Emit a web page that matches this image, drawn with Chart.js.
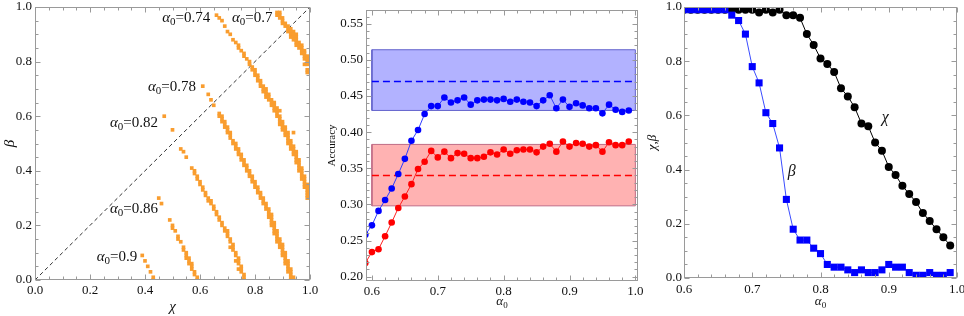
<!DOCTYPE html>
<html><head><meta charset="utf-8">
<script src="https://cdn.jsdelivr.net/npm/chart.js@4.4.1/dist/chart.umd.min.js"></script>
<style>
html,body{margin:0;padding:0;background:#fff;}
#wrap{position:relative;width:964px;height:316px;overflow:hidden;background:#fff;}
.pane{position:absolute;top:0;height:316px;}
canvas{display:block;}
</style></head><body>
<div id="wrap">
<div class="pane" style="left:0;width:320px"><canvas id="c1" width="320" height="316"></canvas></div>
<div class="pane" style="left:320px;width:325px"><canvas id="c2" width="325" height="316"></canvas></div>
<div class="pane" style="left:645px;width:319px"><canvas id="c3" width="319" height="316"></canvas></div>
</div>
<script>
// ---------- Panel 1 data: (chi, beta) cells for each alpha0 ----------
const band070 = [[0.88,0.98],[0.89,0.98],[0.88,0.97],[0.89,0.97],[0.89,0.96],[0.90,0.96],[0.90,0.95],[0.90,0.94],[0.91,0.94],[0.91,0.93],[0.92,0.93],[0.92,0.92],[0.93,0.92],[0.92,0.91],[0.93,0.91],[0.94,0.91],[0.93,0.90],[0.94,0.90],[0.95,0.90],[0.93,0.89],[0.94,0.89],[0.95,0.89],[0.94,0.88],[0.95,0.88],[0.95,0.87],[0.96,0.87],[0.95,0.86],[0.96,0.86],[0.97,0.86],[0.96,0.85],[0.97,0.85],[0.97,0.84],[0.98,0.84],[0.97,0.83],[0.98,0.83],[0.98,0.82],[0.99,0.82],[0.98,0.81],[0.99,0.81],[0.99,0.80],[0.98,0.79],[0.99,0.79],[0.99,0.77],[0.99,0.76]];
const band074 = [[0.66,0.97],[0.67,0.96],[0.68,0.95],[0.69,0.93],[0.70,0.91],[0.71,0.90],[0.72,0.88],[0.73,0.87],[0.74,0.86],[0.74,0.85],[0.75,0.84],[0.76,0.83],[0.76,0.82],[0.77,0.81],[0.78,0.80],[0.78,0.79],[0.79,0.78],
[0.79,0.77],[0.80,0.77],[0.80,0.76],[0.80,0.75],[0.81,0.75],[0.81,0.74],[0.81,0.73],[0.82,0.73],[0.82,0.72],[0.82,0.71],[0.83,0.71],[0.83,0.70],[0.84,0.70],[0.83,0.69],[0.84,0.69],[0.84,0.68],[0.85,0.68],[0.84,0.67],[0.85,0.67],[0.85,0.66],[0.86,0.66],[0.86,0.65],[0.87,0.65],[0.86,0.64],[0.87,0.64],[0.87,0.63],[0.88,0.63],[0.87,0.62],[0.88,0.62],[0.89,0.62],[0.88,0.61],[0.88,0.60],[0.89,0.60],[0.89,0.59],[0.89,0.58],[0.90,0.58],[0.89,0.57],[0.90,0.57],[0.90,0.56],[0.91,0.56],[0.90,0.55],[0.91,0.55],[0.91,0.54],[0.92,0.54],[0.94,0.54],[0.91,0.53],[0.92,0.53],[0.92,0.52],[0.92,0.51],[0.93,0.51],[0.92,0.50],[0.93,0.50],[0.93,0.49],[0.94,0.49],[0.93,0.48],[0.94,0.48],[0.94,0.47],[0.95,0.47],[0.94,0.46],[0.95,0.46],[0.95,0.45],[0.95,0.44],[0.96,0.44],[0.95,0.43],[0.96,0.43],[0.96,0.42],[0.96,0.41],[0.97,0.41],[0.96,0.40],[0.97,0.40],[0.97,0.39],[0.97,0.38],[0.98,0.38],[0.97,0.37],[0.98,0.37],[0.98,0.36],[0.98,0.35],[0.99,0.35],[0.98,0.34],[0.99,0.34],[0.99,0.33],[0.99,0.32],[0.99,0.31],[0.99,0.30]];
const band078 = [[0.61,0.71],[0.63,0.68],[0.64,0.66],[0.65,0.64],
[0.67,0.61],[0.67,0.60],[0.68,0.60],[0.68,0.59],[0.68,0.58],[0.69,0.58],[0.69,0.57],[0.69,0.56],[0.70,0.56],[0.70,0.55],[0.70,0.54],[0.71,0.54],[0.71,0.53],[0.71,0.52],[0.72,0.51],[0.72,0.50],[0.73,0.50],[0.73,0.49],[0.73,0.48],[0.74,0.48],[0.74,0.47],[0.74,0.46],[0.75,0.46],[0.75,0.45],[0.75,0.44],[0.76,0.44],[0.76,0.43],[0.76,0.42],[0.77,0.42],[0.77,0.41],[0.77,0.40],[0.78,0.40],[0.78,0.39],[0.78,0.38],[0.79,0.38],[0.79,0.37],[0.79,0.36],[0.80,0.36],[0.80,0.35],[0.80,0.34],[0.81,0.34],[0.81,0.33],[0.81,0.32],[0.82,0.32],[0.82,0.31],[0.82,0.30],[0.83,0.30],[0.83,0.29],[0.83,0.28],[0.84,0.28],[0.84,0.27],[0.84,0.26],[0.85,0.26],[0.85,0.25],[0.85,0.24],[0.86,0.24],[0.85,0.23],[0.86,0.23],[0.86,0.22],[0.86,0.21],[0.87,0.21],[0.86,0.20],[0.87,0.20],[0.87,0.19],[0.87,0.18],[0.88,0.18],[0.87,0.17],[0.88,0.17],[0.88,0.16],[0.88,0.15],[0.89,0.15],[0.88,0.14],[0.89,0.14],[0.89,0.13],[0.90,0.13],[0.89,0.12],[0.90,0.12],[0.90,0.11],[0.90,0.10],[0.91,0.10],[0.90,0.09],[0.91,0.09],[0.91,0.08],[0.91,0.07],[0.92,0.07],[0.91,0.06],[0.92,0.06],[0.92,0.05],[0.92,0.04],[0.93,0.04],[0.92,0.03],[0.93,0.03],[0.93,0.02],[0.93,0.01],[0.94,0.01],[0.93,0.00],[0.94,0.00]];
const band082 = [[0.47,0.60],[0.50,0.55],[0.53,0.48],[0.54,0.47],[0.55,0.45],[0.57,0.41],[0.58,0.40],[0.58,0.39],[0.59,0.38],[0.59,0.37],[0.60,0.36],[0.60,0.35],[0.61,0.34],[0.61,0.33],[0.62,0.32],[0.62,0.31],[0.63,0.30],[0.63,0.29],[0.64,0.29],[0.64,0.28],[0.65,0.27],[0.65,0.26],[0.66,0.25],[0.66,0.24],[0.67,0.23],[0.67,0.22],[0.68,0.21],[0.68,0.20],[0.69,0.19],[0.69,0.18],[0.70,0.18],[0.70,0.17],[0.70,0.16],[0.71,0.15],[0.71,0.14],[0.72,0.13],[0.71,0.12],[0.72,0.12],[0.72,0.11],[0.73,0.10],[0.73,0.09],[0.74,0.08],[0.73,0.07],[0.74,0.07],[0.74,0.06],[0.75,0.05],[0.74,0.04],[0.75,0.04],[0.75,0.03],[0.76,0.02],[0.76,0.01],[0.76,0.00]];
const band086 = [[0.45,0.30],[0.46,0.28],[0.49,0.22],[0.50,0.20],[0.50,0.19],[0.51,0.18],[0.52,0.16],[0.52,0.15],[0.53,0.14],[0.54,0.12],[0.54,0.11],[0.55,0.10],[0.55,0.09],[0.55,0.08],[0.56,0.08],[0.56,0.07],[0.56,0.06],[0.57,0.06],[0.57,0.05],[0.57,0.04],[0.58,0.03],[0.58,0.02],[0.59,0.01],[0.59,0.00]];
const band090 = [[0.39,0.09],[0.40,0.07],[0.41,0.05],[0.42,0.03],[0.43,0.01],[0.43,0.00]];
const diagonal = [[0,0],[1,1]];
const bandNames = ['0.7','0.74','0.78','0.82','0.86','0.9'];
const bandLabelAt = [[0.79,0.96],[0.55,0.96],[0.498,0.708],[0.36,0.574],[0.36,0.261],[0.298,0.083]];
const p1Ticks = [0,0.2,0.4,0.6,0.8,1.0];
const p1TickLabels = ['0.0','0.2','0.4','0.6','0.8','1.0'];
const p1Minor = [0.05,0.10,0.15,0.25,0.30,0.35,0.45,0.50,0.55,0.65,0.70,0.75,0.85,0.90,0.95];

// ---------- Panel 2 data ----------
const p2Alpha = [0.59,0.60,0.61,0.62,0.63,0.64,0.65,0.66,0.67,0.68,0.69,0.70,0.71,0.72,0.73,0.74,0.75,0.76,0.77,0.78,0.79,0.80,0.81,0.82,0.83,0.84,0.85,0.86,0.87,0.88,0.89,0.90,0.91,0.92,0.93,0.94,0.95,0.96,0.97,0.98,0.99];
const accBlue = [0.258,0.271,0.291,0.306,0.322,0.342,0.363,0.388,0.403,0.425,0.436,0.436,0.448,0.441,0.444,0.448,0.438,0.444,0.445,0.445,0.444,0.446,0.442,0.445,0.442,0.441,0.436,0.444,0.451,0.433,0.445,0.435,0.440,0.437,0.433,0.433,0.426,0.438,0.431,0.428,0.430];
const accRed = [0.219,0.234,0.238,0.256,0.275,0.295,0.311,0.328,0.349,0.359,0.374,0.365,0.373,0.364,0.371,0.370,0.364,0.364,0.366,0.372,0.369,0.376,0.370,0.375,0.376,0.376,0.372,0.380,0.384,0.373,0.387,0.380,0.385,0.384,0.380,0.382,0.373,0.386,0.382,0.382,0.387];
const bandSpan = [0.6,1.0];
const blueBand = [0.430,0.470,0.514]; // low, mean, high
const redBand = [0.298,0.340,0.383];
const p2XTicks = [0.6,0.7,0.8,0.9,1.0];
const p2XTickLabels = ['0.6','0.7','0.8','0.9','1.0'];
const p2XMinor = [0.62,0.64,0.66,0.68,0.72,0.74,0.76,0.78,0.82,0.84,0.86,0.88,0.92,0.94,0.96,0.98];
const p2YTicks = [0.20,0.25,0.30,0.35,0.40,0.45,0.50,0.55];
const p2YTickLabels = ['0.20','0.25','0.30','0.35','0.40','0.45','0.50','0.55'];
const p2YMinor = [0.21,0.22,0.23,0.24,0.26,0.27,0.28,0.29,0.31,0.32,0.33,0.34,0.36,0.37,0.38,0.39,0.41,0.42,0.43,0.44,0.46,0.47,0.48,0.49,0.51,0.52,0.53,0.54,0.56];

// ---------- Panel 3 data ----------
const p3Alpha = [0.60,0.61,0.62,0.63,0.64,0.65,0.66,0.67,0.68,0.69,0.70,0.71,0.72,0.73,0.74,0.75,0.76,0.77,0.78,0.79,0.80,0.81,0.82,0.83,0.84,0.85,0.86,0.87,0.88,0.89,0.90,0.91,0.92,0.93,0.94,0.95,0.96,0.97,0.98,0.99];
const chiVals = [0.99,0.99,0.99,0.99,0.99,0.99,0.99,0.99,0.99,0.99,0.99,0.98,0.99,0.98,0.99,0.97,0.97,0.96,0.90,0.86,0.81,0.79,0.76,0.70,0.67,0.63,0.57,0.56,0.50,0.47,0.41,0.38,0.34,0.31,0.28,0.24,0.21,0.18,0.15,0.12];
const betaVals = [0.99,0.99,0.99,0.99,0.99,0.99,0.99,0.97,0.95,0.90,0.78,0.72,0.61,0.57,0.48,0.29,0.18,0.14,0.14,0.11,0.09,0.05,0.04,0.04,0.03,0.02,0.03,0.02,0.02,0.03,0.05,0.04,0.04,0.02,0.01,0.01,0.02,0.01,0.01,0.02];
const p3XTicks = [0.6,0.7,0.8,0.9,1.0];
const p3XTickLabels = ['0.6','0.7','0.8','0.9','1.0'];
const p3YTicks = [0,0.2,0.4,0.6,0.8,1.0];
const p3YTickLabels = ['0.0','0.2','0.4','0.6','0.8','1.0'];
const seriesLabelAt = [[0.895,0.592],[0.758,0.392]]; // chi, beta

// ---------- helpers ----------
const SERIF = '"Liberation Serif","Times New Roman",serif';
const F = (s, it) => (it ? 'italic ' : '') + s + 'px ' + SERIF;
const xy = arr => arr.map(p => ({x: p[0], y: p[1]}));
const zip = (xs, ys) => xs.map((x, i) => ({x, y: ys[i]}));
const alphaSub = (size, rest) => {
  const parts = [{t:'α', f:F(size,true)}, {t:'0', f:F(Math.round(size*0.7),false), dy:Math.round(size*0.28)}];
  if (rest) parts.push({t:rest, f:F(size,false)});
  return parts;
};

function drawRich(ctx, parts, x, y, rotate) {
  ctx.save();
  ctx.translate(x, y);
  if (rotate) ctx.rotate(-Math.PI/2);
  ctx.textBaseline = 'middle';
  ctx.fillStyle = '#111';
  let w = 0;
  parts.forEach(p => { ctx.font = p.f; w += ctx.measureText(p.t).width; });
  let cx = -w/2;
  parts.forEach(p => { ctx.font = p.f; ctx.fillText(p.t, cx, p.dy || 0); cx += ctx.measureText(p.t).width; });
  ctx.restore();
}

const decor = {
  id: 'decor',
  afterDraw(chart, args, o) {
    const ctx = chart.ctx, a = chart.chartArea, xs = chart.scales.x, ys = chart.scales.y;
    ctx.save();
    ctx.strokeStyle = '#9a9a9a'; ctx.lineWidth = 1;
    const L = Math.round(a.left)+0.5, R = Math.round(a.right)-0.5, T = Math.round(a.top)+0.5, B = Math.round(a.bottom)-0.5;
    ctx.strokeRect(L, T, R-L, B-T);
    ctx.beginPath();
    const xt = (vals, len) => vals.forEach(v => {
      if (v < xs.min-1e-9 || v > xs.max+1e-9) return;
      const p = Math.round(xs.getPixelForValue(v))+0.5;
      ctx.moveTo(p,B); ctx.lineTo(p,B-len); ctx.moveTo(p,T); ctx.lineTo(p,T+len);
    });
    const yt = (vals, len) => vals.forEach(v => {
      if (v < ys.min-1e-9 || v > ys.max+1e-9) return;
      const p = Math.round(ys.getPixelForValue(v))+0.5;
      ctx.moveTo(L,p); ctx.lineTo(L+len,p); ctx.moveTo(R,p); ctx.lineTo(R-len,p);
    });
    xt(o.xMajor,5); xt(o.xMinor,3); yt(o.yMajor,5); yt(o.yMinor,3);
    ctx.stroke();
    ctx.restore();
    // axis titles
    drawRich(ctx, o.bottom, (a.left+a.right)/2, a.bottom + o.bottomOff, false);
    drawRich(ctx, o.left, o.leftX, (a.top+a.bottom)/2, true);
    (o.labels || []).forEach(l => drawRich(ctx, l.parts, xs.getPixelForValue(l.at[0]), ys.getPixelForValue(l.at[1]), false));
  }
};

function axis(min, max, ticks, labels, isX, size, pad) {
  return {
    type: 'linear', min, max,
    afterBuildTicks: s => { s.ticks = ticks.map(v => ({value: v})); },
    afterFit: s => {
      if (isX) s.height = size; else s.width = size;
      s.paddingLeft = s.paddingRight = s.paddingTop = s.paddingBottom = 0;
    },
    ticks: { callback: (v, i) => labels[i], font: {family: SERIF, size: 13}, color: '#111', padding: pad, autoSkip: false, maxRotation: 0, minRotation: 0 },
    grid: { display: false, drawTicks: false },
    border: { display: false }
  };
}
const baseOpts = { responsive: false, animation: false, events: [], devicePixelRatio: 1 };
const ORANGE = '#F99D2F';
const cellStyle = { pointStyle: 'rect', pointRadius: 2.6, pointBackgroundColor: ORANGE, pointBorderWidth: 0, showLine: false, clip: 0 };

// ---------- Chart 1 ----------
new Chart(document.getElementById('c1'), {
  type: 'scatter',
  data: { datasets: [
    Object.assign({data: xy(band070)}, cellStyle),
    Object.assign({data: xy(band074)}, cellStyle),
    Object.assign({data: xy(band078)}, cellStyle),
    Object.assign({data: xy(band082)}, cellStyle),
    Object.assign({data: xy(band086)}, cellStyle),
    Object.assign({data: xy(band090)}, cellStyle),
    { type: 'line', data: xy(diagonal), borderColor: '#333', borderWidth: 1, borderDash: [4,3], pointRadius: 0, fill: false, clip: 0 }
  ]},
  options: Object.assign({}, baseOpts, {
    layout: { padding: { top: 7, right: 10, left: 0, bottom: 0 } },
    scales: { x: axis(0, 1, p1Ticks, p1TickLabels, true, 36, 3), y: axis(0, 1, p1Ticks, p1TickLabels, false, 35, 3) },
    plugins: { legend: {display: false}, tooltip: {enabled: false},
      decor: { xMajor: p1Ticks, xMinor: p1Minor, yMajor: p1Ticks, yMinor: p1Minor,
        bottom: [{t:'χ', f:F(15,true)}], bottomOff: 27, left: [{t:'β', f:F(15,true)}], leftX: 10,
        labels: bandNames.map((n, i) => ({parts: alphaSub(15, '=' + n), at: bandLabelAt[i]})) } }
  }),
  plugins: [decor]
});

// ---------- Chart 2 ----------
const boxPts = b => [{x:bandSpan[0],y:b[0]},{x:bandSpan[1],y:b[0]},{x:bandSpan[1],y:b[2]},{x:bandSpan[0],y:b[2]},{x:bandSpan[0],y:b[0]}];
const meanPts = b => [{x:bandSpan[0],y:b[1]},{x:bandSpan[1],y:b[1]}];
new Chart(document.getElementById('c2'), {
  type: 'scatter',
  data: { datasets: [
    { data: zip(p2Alpha, accBlue), showLine: true, borderColor: '#2f3cff', borderWidth: 1, pointRadius: 3.3, pointBackgroundColor: '#0000ff', pointBorderWidth: 0, clip: 0 },
    { data: zip(p2Alpha, accRed), showLine: true, borderColor: '#ff2020', borderWidth: 1, pointRadius: 3.3, pointBackgroundColor: '#ff0000', pointBorderWidth: 0, clip: 0 },
    { type: 'line', data: meanPts(blueBand), borderColor: '#0000ff', borderWidth: 1.5, borderDash: [7,4], pointRadius: 0, fill: false, clip: 0 },
    { type: 'line', data: meanPts(redBand), borderColor: '#ff0000', borderWidth: 1.5, borderDash: [7,4], pointRadius: 0, fill: false, clip: 0 },
    { type: 'line', data: boxPts(blueBand), borderColor: '#6464cc', borderWidth: 1, backgroundColor: '#b2b2ff', fill: 'shape', pointRadius: 0, tension: 0, clip: 0 },
    { type: 'line', data: boxPts(redBand), borderColor: '#c06c86', borderWidth: 1, backgroundColor: '#ffb2b2', fill: 'shape', pointRadius: 0, tension: 0, clip: 0 }
  ]},
  options: Object.assign({}, baseOpts, {
    layout: { padding: { top: 10, right: 7, left: 0, bottom: 0 } },
    scales: { x: axis(0.591, 1.004, p2XTicks, p2XTickLabels, true, 35, 3), y: axis(0.194, 0.569, p2YTicks, p2YTickLabels, false, 46, 3) },
    plugins: { legend: {display: false}, tooltip: {enabled: false}, filler: { drawTime: 'beforeDatasetsDraw' },
      decor: { xMajor: p2XTicks, xMinor: p2XMinor, yMajor: p2YTicks, yMinor: p2YMinor,
        bottom: alphaSub(13), bottomOff: 21, left: [{t:'Accuracy', f:F(11,false)}], leftX: 12 } }
  }),
  plugins: [decor]
});

// ---------- Chart 3 ----------
new Chart(document.getElementById('c3'), {
  type: 'scatter',
  data: { datasets: [
    { data: zip(p3Alpha, betaVals), showLine: true, borderColor: '#3a4cff', borderWidth: 1, pointStyle: 'rect', pointRadius: 5, pointBackgroundColor: '#0000ff', pointBorderWidth: 0, clip: 0 },
    { data: zip(p3Alpha, chiVals), showLine: true, borderColor: '#000', borderWidth: 1, pointRadius: 4, pointBackgroundColor: '#000', pointBorderWidth: 0, clip: 0 }
  ]},
  options: Object.assign({}, baseOpts, {
    layout: { padding: { top: 7, right: 7, left: 0, bottom: 0 } },
    scales: { x: axis(0.6, 1.0, p3XTicks, p3XTickLabels, true, 38, 4), y: axis(0, 1, p3YTicks, p3YTickLabels, false, 39, 2) },
    plugins: { legend: {display: false}, tooltip: {enabled: false},
      decor: { xMajor: p3XTicks, xMinor: p2XMinor, yMajor: p3YTicks, yMinor: p1Minor,
        bottom: alphaSub(13), bottomOff: 24, left: [{t:'χ,β', f:F(13,true)}], leftX: 8,
        labels: [{parts:[{t:'χ', f:F(16,true)}], at: seriesLabelAt[0]}, {parts:[{t:'β', f:F(16,true)}], at: seriesLabelAt[1]}] } }
  }),
  plugins: [decor]
});
</script>
</body></html>
